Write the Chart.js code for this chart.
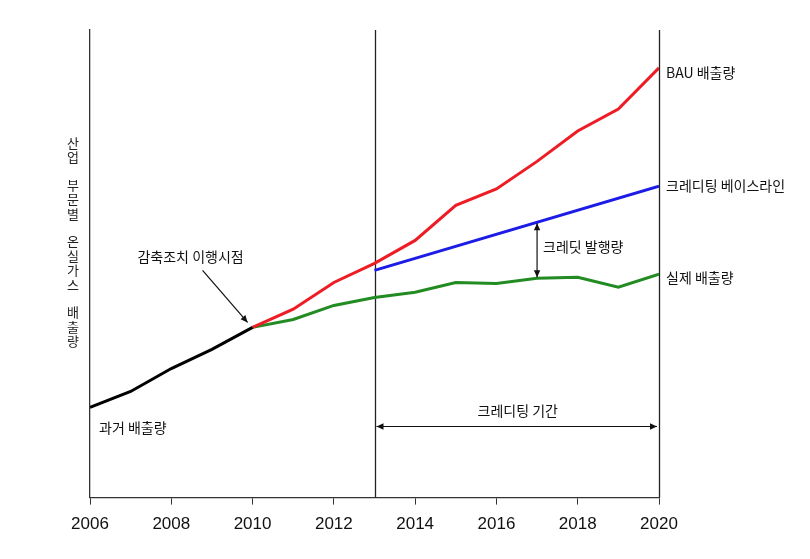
<!DOCTYPE html>
<html lang="ko">
<head>
<meta charset="UTF-8">
<title>산업 부문별 온실가스 배출량</title>
<script src="https://cdn.jsdelivr.net/npm/chart.js"></script>
<style>
    body { margin: 0; background: #fff; }
    #wrap { width: 810px; height: 559px; }
</style>
</head>
<body>
<div id="wrap"><canvas id="myChart"></canvas></div>
<script>
    // 데이터 (그림에서 읽은 대략적인 값, 임의 단위)
    var pastYears = [2006, 2007, 2008, 2009, 2010];
    var pastEmission = [19.3, 22.7, 27.6, 31.7, 36.4];
    var futureYears = [2010, 2011, 2012, 2013, 2014, 2015, 2016, 2017, 2018, 2019, 2020];
    var bauEmission = [36.4, 40.3, 46.0, 50.1, 55.0, 62.5, 66.0, 71.9, 78.4, 83.1, 91.9];
    var actualEmission = [36.4, 38.1, 41.1, 42.8, 43.9, 46.0, 45.8, 46.9, 47.1, 45.0, 47.8];
    var baselineYears = [2013, 2020];
    var baselineEmission = [48.6, 66.6];
    var xTicks = [2006, 2008, 2010, 2012, 2014, 2016, 2018, 2020];
    var yAxisTitle = '산업 부문별 온실가스 배출량';
    var creditStart = 2013, creditEnd = 2020, measureYear = 2010, issueYear = 2017;

    function pts(xs, ys) {
        return xs.map(function (x, i) { return { x: x, y: ys[i] }; });
    }

    function baselineAt(yr) {
        var t = (yr - baselineYears[0]) / (baselineYears[1] - baselineYears[0]);
        return baselineEmission[0] + t * (baselineEmission[1] - baselineEmission[0]);
    }

    var KR = '14px "Noto Sans CJK KR", "Noto Sans", sans-serif';

    function arrowHead(ctx, x1, y1, x2, y2) {
        var a = Math.atan2(y2 - y1, x2 - x1);
        var len = 7, w = 3.2;
        ctx.beginPath();
        ctx.moveTo(x2, y2);
        ctx.lineTo(x2 - len * Math.cos(a) + w * Math.sin(a), y2 - len * Math.sin(a) - w * Math.cos(a));
        ctx.lineTo(x2 - len * Math.cos(a) - w * Math.sin(a), y2 - len * Math.sin(a) + w * Math.cos(a));
        ctx.closePath();
        ctx.fill();
    }

    function arrow(ctx, x1, y1, x2, y2, both) {
        ctx.beginPath();
        ctx.moveTo(x1, y1);
        ctx.lineTo(x2, y2);
        ctx.stroke();
        arrowHead(ctx, x1, y1, x2, y2);
        if (both) arrowHead(ctx, x2, y2, x1, y1);
    }

    var annotations = {
        id: 'annotations',
        beforeDatasetsDraw: function (chart) {
            var ctx = chart.ctx, x = chart.scales.x, a = chart.chartArea;
            ctx.save();
            ctx.strokeStyle = '#222';
            ctx.lineWidth = 1.3;
            [creditStart, creditEnd].forEach(function (yr) {
                var px = Math.round(x.getPixelForValue(yr)) + 0.5;
                ctx.beginPath();
                ctx.moveTo(px, a.top);
                ctx.lineTo(px, a.bottom);
                ctx.stroke();
            });
            ctx.restore();
        },
        afterDatasetsDraw: function (chart) {
            var ctx = chart.ctx, x = chart.scales.x, y = chart.scales.y, a = chart.chartArea;
            ctx.save();
            ctx.fillStyle = '#111';
            ctx.strokeStyle = '#111';
            ctx.lineWidth = 1.2;
            ctx.font = KR;
            ctx.textBaseline = 'middle';

            // 오른쪽 계열 이름
            var endX = x.getPixelForValue(creditEnd) + 7;
            ctx.textAlign = 'left';
            ctx.fillText('BAU 배출량', endX, y.getPixelForValue(bauEmission[bauEmission.length - 1]) + 5);
            ctx.fillText('크레디팅 베이스라인', endX, y.getPixelForValue(baselineEmission[1]));
            ctx.fillText('실제 배출량', endX, y.getPixelForValue(actualEmission[actualEmission.length - 1]) + 4);

            // 과거 배출량
            ctx.fillText('과거 배출량', a.left + 9, y.getPixelForValue(pastEmission[0]) + 20);

            // 감축조치 이행시점
            var mx = x.getPixelForValue(measureYear), my = y.getPixelForValue(pastEmission[pastEmission.length - 1]);
            ctx.textAlign = 'center';
            ctx.fillText('감축조치 이행시점', mx - 62, my - 71);
            arrow(ctx, mx - 50, my - 57, mx - 5, my - 5, false);

            // 크레딧 발행량
            var ix = x.getPixelForValue(issueYear);
            var top = y.getPixelForValue(baselineAt(issueYear)) + 1;
            var bot = y.getPixelForValue(actualEmission[futureYears.indexOf(issueYear)]) - 1;
            arrow(ctx, ix, bot, ix, top, true);
            ctx.textAlign = 'left';
            ctx.fillText('크레딧 발행량', ix + 6, (top + bot) / 2 - 4);

            // 크레디팅 기간
            var sx = x.getPixelForValue(creditStart), ex = x.getPixelForValue(creditEnd);
            var py = y.getPixelForValue(15.2);
            arrow(ctx, sx + 2, py, ex - 2, py, true);
            ctx.textAlign = 'center';
            ctx.fillText('크레디팅 기간', (sx + ex) / 2 + 1, py - 16);

            // 세로 축 제목 (글자를 세로로 쌓음)
            ctx.fillStyle = '#222';
            ctx.font = '13px "Noto Sans CJK KR", "Noto Sans", sans-serif';
            var cy = a.top + 113, cx = a.left - 17;
            Array.from(yAxisTitle).forEach(function (ch) {
                if (ch === ' ') { cy += 13; return; }
                ctx.fillText(ch, cx, cy);
                cy += 14.5;
            });
            ctx.restore();
        }
    };

    var lineStyle = { borderWidth: 3, pointRadius: 0, tension: 0, fill: false };

    var data = {
        datasets: [
            Object.assign({ label: '과거 배출량', data: pts(pastYears, pastEmission), borderColor: '#000' }, lineStyle),
            Object.assign({ label: 'BAU 배출량', data: pts(futureYears, bauEmission), borderColor: '#ee1c24' }, lineStyle),
            Object.assign({ label: '실제 배출량', data: pts(futureYears, actualEmission), borderColor: '#228b22' }, lineStyle),
            Object.assign({ label: '크레디팅 베이스라인', data: pts(baselineYears, baselineEmission), borderColor: '#1c1ce6' }, lineStyle)
        ]
    };

    var options = {
        responsive: true,
        maintainAspectRatio: false,
        animation: false,
        layout: { padding: { left: 82, right: 151, top: 30, bottom: 14 } },
        plugins: {
            legend: { display: false },
            tooltip: { enabled: false }
        },
        scales: {
            x: {
                type: 'linear',
                min: xTicks[0],
                max: xTicks[xTicks.length - 1],
                afterBuildTicks: function (axis) {
                    axis.ticks = xTicks.map(function (v) { return { value: v }; });
                },
                grid: { drawOnChartArea: false, drawTicks: true, tickLength: 7, color: '#333', lineWidth: 1 },
                border: { display: true, color: '#333', width: 1.3 },
                ticks: {
                    color: '#111',
                    padding: 10,
                    maxRotation: 0,
                    font: { family: '"Liberation Sans Narrow", "Liberation Sans", Arial, sans-serif', size: 17 },
                    callback: function (v) { return String(v); }
                }
            },
            y: {
                min: 0,
                max: 100,
                ticks: { display: false },
                grid: { display: false },
                border: { display: true, color: '#333', width: 1.3 }
            }
        }
    };

    new Chart(document.getElementById('myChart'), {
        type: 'line',
        data: data,
        options: options,
        plugins: [annotations]
    });
</script>
</body>
</html>
